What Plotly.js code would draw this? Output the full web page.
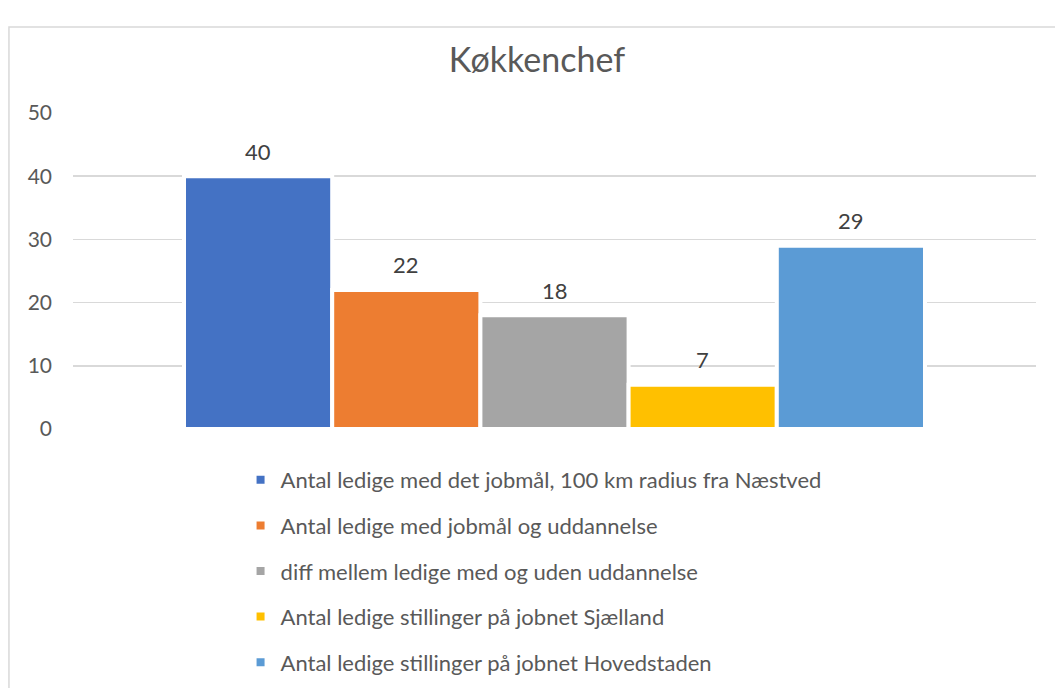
<!DOCTYPE html>
<html>
<head>
<meta charset="utf-8">
<script src="https://cdn.plot.ly/plotly-3.0.1.min.js"></script>
<style>html,body{margin:0;padding:0;background:#fff;}#chart{width:1055px;height:688px;}</style>
</head>
<body>
<div id="chart"></div>
<script>
const seriesNames = [
  "Antal ledige med det jobmål, 100 km radius fra Næstved",
  "Antal ledige med jobmål og uddannelse",
  "diff mellem ledige med og uden uddannelse",
  "Antal ledige stillinger på jobnet Sjælland",
  "Antal ledige stillinger på jobnet Hovedstaden"
];
const seriesValues = [40, 22, 18, 7, 29];
const seriesColors = ["#4472C4", "#ED7D31", "#A5A5A5", "#FFC000", "#5B9BD5"];
const yTicks = [0, 10, 20, 30, 40, 50];
const chartTitle = "Køkkenchef";

const FONT = "Lato, 'Open Sans', sans-serif";

const traces = seriesNames.map((name, i) => ({
  type: "bar",
  name: name,
  x: [name],
  y: [seriesValues[i]],
  legendgroup: "g" + i,
  marker: { color: seriesColors[i], line: { color: "#ffffff", width: 4 } },
  hoverinfo: "name+y"
}));

const annotations = seriesNames.map((name, i) => ({
  x: name, y: seriesValues[i], xref: "x", yref: "y",
  text: String(seriesValues[i]), showarrow: false,
  yanchor: "middle", yshift: 25,
  font: { family: FONT, size: 22, color: "#404040" }
}));

const layout = {
  width: 1055, height: 688,
  paper_bgcolor: "#ffffff", plot_bgcolor: "#ffffff",
  margin: { l: 73, r: 19, t: 113, b: 259, autoexpand: false },
  font: { family: FONT, color: "#595959" },
  title: { text: chartTitle, font: { family: FONT, size: 34, color: "#595959" },
           x: 0.509, xref: "container", y: 1 - 60/688, yref: "container", yanchor: "middle" },
  barmode: "overlay", bargap: 0,
  xaxis: { type: "category", range: [-1.249, 5.249], showticklabels: false, showgrid: false,
           zeroline: false, showline: false, ticks: "" },
  yaxis: { range: [0, 50], tickvals: yTicks, ticktext: yTicks.map(String), showgrid: true,
           gridcolor: "#d9d9d9", gridwidth: 1.5, zeroline: false, showline: false, ticks: "",
           ticklabelstandoff: 20, tickfont: { family: FONT, size: 21, color: "#595959" } },
  showlegend: true,
  legend: { orientation: "v", x: 0.174, xanchor: "left", y: -0.095, yanchor: "top",
            font: { family: FONT, size: 22, color: "#595959" }, tracegroupgap: 14,
            bgcolor: "rgba(0,0,0,0)" },
  annotations: annotations,
  shapes: [{ type: "rect", xref: "paper", yref: "paper", x0: -0.0665, x1: 1.05, y0: -0.9, y1: 1.272,
             line: { color: "#d9d9d9", width: 1.5 }, fillcolor: "rgba(0,0,0,0)", layer: "below" }]
};

Plotly.newPlot("chart", traces, layout, { displayModeBar: false, staticPlot: true });
</script>
</body>
</html>
